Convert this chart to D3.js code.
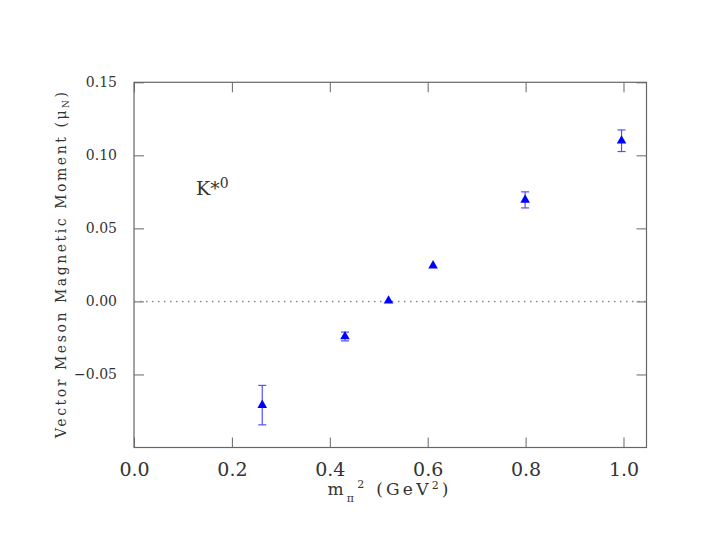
<!DOCTYPE html>
<html><head><meta charset="utf-8">
<script src="https://cdn.jsdelivr.net/npm/d3@7"></script>
<style>body{margin:0;background:#fff}</style></head>
<body><svg id="c" width="717" height="554"></svg>
<script>
const xValues = [0.262, 0.431, 0.520, 0.611, 0.799, 0.996];
const yValues = [-0.071, -0.024, 0.0005, 0.0245, 0.0695, 0.110];
const yErrors = [0.0135, 0.003, 0.0, 0.0, 0.0055, 0.0074];
const xTicks = [0.0, 0.2, 0.4, 0.6, 0.8, 1.0];
const yTicks = [-0.05, 0.00, 0.05, 0.10, 0.15];
const xDomain = [0, 1.047];
const yDomain = [-0.10, 0.15];

const svg = d3.select("#c");
svg.append("rect").attr("width",717).attr("height",554).attr("fill","#fff");
const L=134, R=646.5, T=82.3, B=447.5;
const x = d3.scaleLinear().domain(xDomain).range([L,R]);
const y = d3.scaleLinear().domain(yDomain).range([B,T]);
const fontF = "'DejaVu Serif', serif";
const axCol = "#666";
const txtCol = "#333";

function styleAxis(g, size, hide){
  g.select(".domain").remove();
  g.selectAll(".tick line").attr("stroke",axCol).attr("stroke-width",1);
  g.selectAll(".tick text").attr("font-family",fontF).attr("font-size",size).attr("fill",txtCol);
  if(hide) g.selectAll(".tick text").remove();
}
svg.append("g").attr("transform",`translate(0,${B})`)
  .call(d3.axisBottom(x).tickValues(xTicks).tickSize(-10).tickPadding(15).tickFormat(d3.format(".1f")))
  .call(g=>styleAxis(g,19,false));
svg.append("g").attr("transform",`translate(0,${T})`)
  .call(d3.axisTop(x).tickValues(xTicks).tickSize(-10))
  .call(g=>styleAxis(g,19,true));
svg.append("g").attr("transform",`translate(${L},0)`)
  .call(d3.axisLeft(y).tickValues(yTicks).tickSize(-10).tickPadding(17).tickFormat(d3.format(".2f")))
  .call(g=>styleAxis(g,14,false));
svg.append("g").attr("transform",`translate(${R},0)`)
  .call(d3.axisRight(y).tickValues(yTicks).tickSize(-10))
  .call(g=>styleAxis(g,14,true));

// frame
svg.append("rect").attr("x",L).attr("y",T).attr("width",R-L).attr("height",B-T)
  .attr("fill","none").attr("stroke",axCol).attr("stroke-width",1.2);

// zero line
svg.append("line").attr("x1",L).attr("x2",R).attr("y1",y(0)).attr("y2",y(0))
  .attr("stroke","#888").attr("stroke-width",1.5).attr("stroke-dasharray","1.5,4.5");

const data = xValues.map((v,i)=>({x:v,y:yValues[i],e:yErrors[i]}));
const eb = svg.append("g").attr("stroke","#5050ff").attr("stroke-width",1.2);
data.filter(d=>d.e>0).forEach(d=>{
  const cx=x(d.x);
  eb.append("line").attr("x1",cx).attr("x2",cx).attr("y1",y(d.y+d.e)).attr("y2",y(d.y-d.e));
  eb.append("line").attr("x1",cx-4).attr("x2",cx+4).attr("y1",y(d.y+d.e)).attr("y2",y(d.y+d.e));
  eb.append("line").attr("x1",cx-4).attr("x2",cx+4).attr("y1",y(d.y-d.e)).attr("y2",y(d.y-d.e));
});
svg.append("g").selectAll("path").data(data).join("path")
  .attr("d",d3.symbol(d3.symbolTriangle,40))
  .attr("transform",d=>`translate(${x(d.x)},${y(d.y)})`)
  .attr("fill","#0000ff");

// label K*0
const k = svg.append("text").attr("x",196).attr("y",195).attr("font-family",fontF).attr("font-size",19).attr("fill",txtCol);
k.append("tspan").text("K");
k.append("tspan").text("*");
k.append("tspan").attr("dy",-7).attr("font-size",14).text("0");

// y label
const yl = svg.append("text").attr("transform","translate(66,265) rotate(-90)")
  .attr("text-anchor","middle").attr("font-family",fontF).attr("font-size",14).attr("fill",txtCol)
  .attr("textLength",346).attr("lengthAdjust","spacing");
yl.append("tspan").text("Vector Meson Magnetic Moment (\u03bc");
yl.append("tspan").attr("dy",3).attr("font-size",9).text("N");
yl.append("tspan").attr("dy",-3).text(")");

// x label
const xl = svg.append("text").attr("x",388).attr("y",495).attr("text-anchor","middle")
  .attr("font-family",fontF).attr("font-size",17).attr("fill",txtCol)
  .attr("textLength",121).attr("lengthAdjust","spacing");
xl.append("tspan").text("m");
xl.append("tspan").attr("dy",7).attr("font-size",11).text("\u03c0");
xl.append("tspan").attr("dy",-14).attr("font-size",11).text("2");
xl.append("tspan").attr("dy",7).text(" (GeV");
xl.append("tspan").attr("dy",-6).attr("font-size",11).text("2");
xl.append("tspan").attr("dy",6).text(")");
</script></body></html>
